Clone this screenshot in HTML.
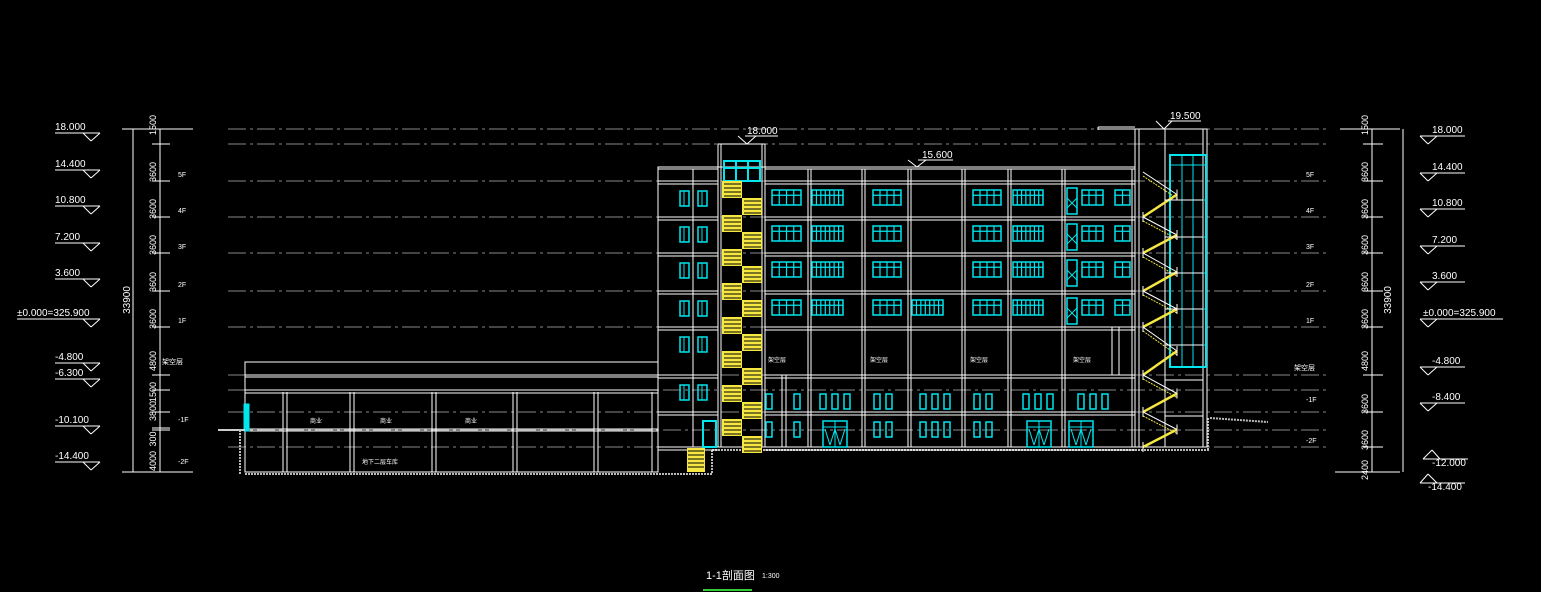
<!DOCTYPE html>
<html><head><meta charset="utf-8">
<style>
html,body{margin:0;padding:0;background:#000;}
svg{display:block;}
text{font-family:"Liberation Sans","Noto Sans CJK SC",sans-serif;fill:#fff;}
</style></head>
<body>
<svg id="s" width="1541" height="592" viewBox="0 0 1541 592" xmlns="http://www.w3.org/2000/svg">
<rect width="1541" height="592" fill="#000"/>
<g id="g" fill="none" stroke="#fff" stroke-width="1"></g>
<g id="t"></g>
</svg>
<script>
var g=document.getElementById('g'),T=document.getElementById('t');
var NS='http://www.w3.org/2000/svg';
function el(p,n,a,txt){var e=document.createElementNS(NS,n);for(var k in a)e.setAttribute(k,a[k]);if(txt!==undefined)e.textContent=txt;p.appendChild(e);return e;}
function L(x1,y1,x2,y2,c,w,d){var a={x1:x1,y1:y1,x2:x2,y2:y2};if(c)a.stroke=c;if(w)a['stroke-width']=w;if(d)a['stroke-dasharray']=d;return el(g,'line',a);}
function R(x,y,w,h,c,sw,f){var a={x:x,y:y,width:w,height:h};if(c)a.stroke=c;if(sw)a['stroke-width']=sw;if(f)a.fill=f;return el(g,'rect',a);}
function X(x,y,s,sz,anchor,rot,col){var a={x:x,y:y,'font-size':sz||10};if(anchor)a['text-anchor']=anchor;if(rot)a.transform='rotate('+rot+' '+x+' '+y+')';if(col)a.fill=col;return el(T,'text',a,s);}
var C='#00e5ee',Y='#f5e642',GR='#888';

[129,144,181,217,253,291,327,375,390,412,430,447].forEach(function(y){L(228,y,1330,y,GR,1,'18 4 3 4');});

[['18.000',130],['14.400',167],['10.800',203],['7.200',240],['3.600',276],['-4.800',360],['-6.300',376],['-10.100',423],['-14.400',459]].forEach(function(a){X(55,a[1],a[0],10);L(55,a[1]+3,100,a[1]+3);L(83,a[1]+3,91,a[1]+11);L(91,a[1]+11,100,a[1]+3);});
X(17,316,'±0.000=325.900',10);L(17,319,100,319);L(83,319,91,327);L(91,327,100,319);
[['18.000',133],['14.400',170],['10.800',206],['7.200',243],['3.600',279],['-4.800',364],['-8.400',400]].forEach(function(a){X(1432,a[1],a[0],10);L(1420,a[1]+3,1465,a[1]+3);L(1420,a[1]+3,1428,a[1]+11);L(1428,a[1]+11,1437,a[1]+3);});
X(1423,316,'±0.000=325.900',10);L(1420,319,1503,319);L(1420,319,1428,327);L(1428,327,1437,319);
X(1432,466,'-12.000',10);L(1423,459,1468,459);L(1423,459,1432,450);L(1432,450,1440,459);
X(1428,490,'-14.400',10);L(1420,483,1465,483);L(1420,483,1428,474);L(1428,474,1437,483);

L(133,129,133,472);L(160,129,160,472);L(122,129,193,129);L(122,472,193,472);
[129,144,181,217,253,291,327,375,390,412,428,430,472].forEach(function(y){L(152,y,170,y);});
[['1500',115],['3600',162],['3600',199],['3600',235],['3600',272],['3600',309],['4800',351],['1500',382],['3800',401],['300',429],['4000',451]].forEach(function(d){X(156,d[1]+10,d[0],9,'middle',-90);});
X(130,300,'33900',10,'middle',-90);
[['5F',177],['4F',213],['3F',249],['2F',287],['1F',323],['-1F',422],['-2F',464]].forEach(function(a){X(178,a[1],a[0],7);});
X(162,364,'架空层',7);

L(1372,129,1372,472);L(1403,129,1403,472);L(1340,129,1400,129);L(1335,472,1400,472);
[144,181,217,253,291,327,375,412,447].forEach(function(y){L(1363,y,1383,y);});
[['1500',115],['3600',162],['3600',199],['3600',235],['3600',272],['3600',309],['4800',351],['3600',394],['3600',430],['2400',460]].forEach(function(d){X(1368,d[1]+10,d[0],9,'middle',-90);});
X(1391,300,'33900',10,'middle',-90);
[['5F',177],['4F',213],['3F',249],['2F',287],['1F',323],['-1F',402],['-2F',443]].forEach(function(a){X(1306,a[1],a[0],7);});
X(1294,370,'架空层',7);

// low building
R(245,362,413,110);
L(245,375,658,375);L(245,377,658,377);
L(245,390,658,390);L(245,393,658,393);
L(245,429,658,429);L(245,431,658,431);
[283,287,350,354,432,436,513,517,594,598,652].forEach(function(x){L(x,392,x,472);});
R(245,405,3,25,C,3);
L(218,430,245,430,'#ccc',2);
X(310,423,'商业',6);X(380,423,'商业',6);X(465,423,'商业',6);X(362,464,'地下二层车库',6);
L(245,474,712,474,'#bbb',2,'2 1');L(712,450,1210,450,'#bbb',2,'2 1');L(712,450,712,474,'#bbb',2,'2 1');
L(1210,418,1268,422,'#bbb',2,'2 1');L(1208,418,1208,450,'#bbb',2,'2 1');L(240,430,240,474,'#bbb',2,'2 1');

// main building
var fl=[181,217,253,291,327,375,412,447];
L(658,167,1135,167);L(658,169,718,169);L(765,169,1135,169);
R(658,167,477,280);
fl.forEach(function(y){L(658,y,718,y);L(658,y+3,718,y+3);L(765,y,1135,y);L(765,y+3,1135,y+3);});
[693,718,721,762,765,808,811,862,865,908,911,962,965,1008,1011,1062,1065,1132].forEach(function(x){L(x,169,x,447);});
R(718,144,47,303);L(721,144,721,447);L(762,144,762,447);
R(724,161,36,20,C,2);L(736,161,736,181,C,2);L(748,161,748,181,C,2);L(724,168,760,168,C,2);
for(var i=0;i<8;i++){var y0=181+i*34;
 el(g,'rect',{x:722,y:y0,width:20,height:17,fill:Y,stroke:'none'});
 el(g,'rect',{x:742,y:y0+17,width:20,height:17,fill:Y,stroke:'none'});
 for(var k=0;k<4;k++){L(724,y0+3+k*4,741,y0+3+k*4,'#000');L(744,y0+20+k*4,761,y0+20+k*4,'#000');}
}
el(g,'rect',{x:687,y:448,width:18,height:24,fill:Y,stroke:'none'});
for(var k=0;k<5;k++)L(688,451+k*4,704,451+k*4,'#000');
R(703,421,13,26,C,2);

function win(x,y,w,h,n){R(x,y,w,h,C,1.5);for(var i=1;i<n;i++)L(x+w*i/n,y,x+w*i/n,y+h,C,1.2);L(x,y+h*0.35,x+w,y+h*0.35,C,1.2);}
for(var r=0;r<4;r++){var y=fl[r]+9;
 win(772,y,29,15,4);win(812,y,31,15,7);win(873,y,28,15,4);
 if(r==3)win(912,y,31,15,7);
 win(973,y,28,15,4);win(1013,y,30,15,7);
 R(1067,y-2,10,26,C,1.5);L(1067,y+8,1077,y+18,C,1);L(1077,y+8,1067,y+18,C,1);
 win(1082,y,21,15,3);win(1115,y,15,15,2);
}
for(var r=0;r<6;r++){var y=fl[r]+10;R(680,y,9,15,C,1.5);L(684,y,684,y+15,C);R(698,y,9,15,C,1.5);L(702,y,702,y+15,C);}
X(768,362,'架空层',6);X(870,362,'架空层',6);X(970,362,'架空层',6);X(1073,362,'架空层',6);
L(1112,327,1112,375);L(1119,327,1119,375);
function sm(x,y){R(x,y,6,15,C,1.5);}
[766,794,820,832,844,874,886,920,932,944,974,986,1023,1035,1047,1078,1090,1102].forEach(function(x){sm(x,394);});
[766,794,874,886,920,932,944,974,986].forEach(function(x){sm(x,422);});
[[823,421],[1027,421],[1069,421]].forEach(function(p){R(p[0],p[1],24,26,C,1.5);L(p[0],p[1]+6,p[0]+24,p[1]+6,C);L(p[0]+12,p[1],p[0]+12,p[1]+26,C);L(p[0]+2,p[1]+8,p[0]+7,p[1]+24,C);L(p[0]+12,p[1]+8,p[0]+7,p[1]+24,C);L(p[0]+12,p[1]+8,p[0]+17,p[1]+24,C);L(p[0]+22,p[1]+8,p[0]+17,p[1]+24,C);});
L(782,375,782,447);L(786,375,786,447);L(794,412,808,412);

// right stair tower
R(1135,129,72,318);L(1139,129,1139,447);L(1165,129,1165,447);L(1203,129,1203,447);
L(1098,129,1207,129);L(1098,127,1135,127);L(1098,127,1098,130);
R(1170,155,36,212,C,2);
[165,200,237,273,309,345].forEach(function(y){L(1170,y,1206,y,C,1);});
L(1182,155,1182,367,C,1);L(1193,155,1193,367,C,1);
// zigzag stairs
var lp=[172,217,253,291,327,375,412,447];
for(var i=0;i<lp.length-1;i++){
 var a=lp[i],b=lp[i+1],m=(a+b)/2;
 L(1143,a,1177,m);L(1177,m,1143,b);
 L(1143,a+4,1177,m+4,Y,1,'2 1');
 L(1143,b,1177,m,Y,2.5);
 L(1143,b-5,1143,b+5);L(1177,m-5,1177,m+5);
}
[200,237,273,309,345,380,416].forEach(function(y){L(1165,y,1203,y);});

X(747,134,'18.000',10);L(745,136,778,136);L(738,136,747,144);L(747,144,756,136);
X(922,158,'15.600',10);L(918,160,953,160);L(908,160,917,167);L(917,167,926,160);
X(1170,119,'19.500',10);L(1168,121,1201,121);L(1156,121,1164,129);L(1164,129,1172,121);

X(706,579,'1-1剖面图',11);X(762,578,'1:300',7);
L(703,590,752,590,'#3c3',2);
</script>
</body></html>
